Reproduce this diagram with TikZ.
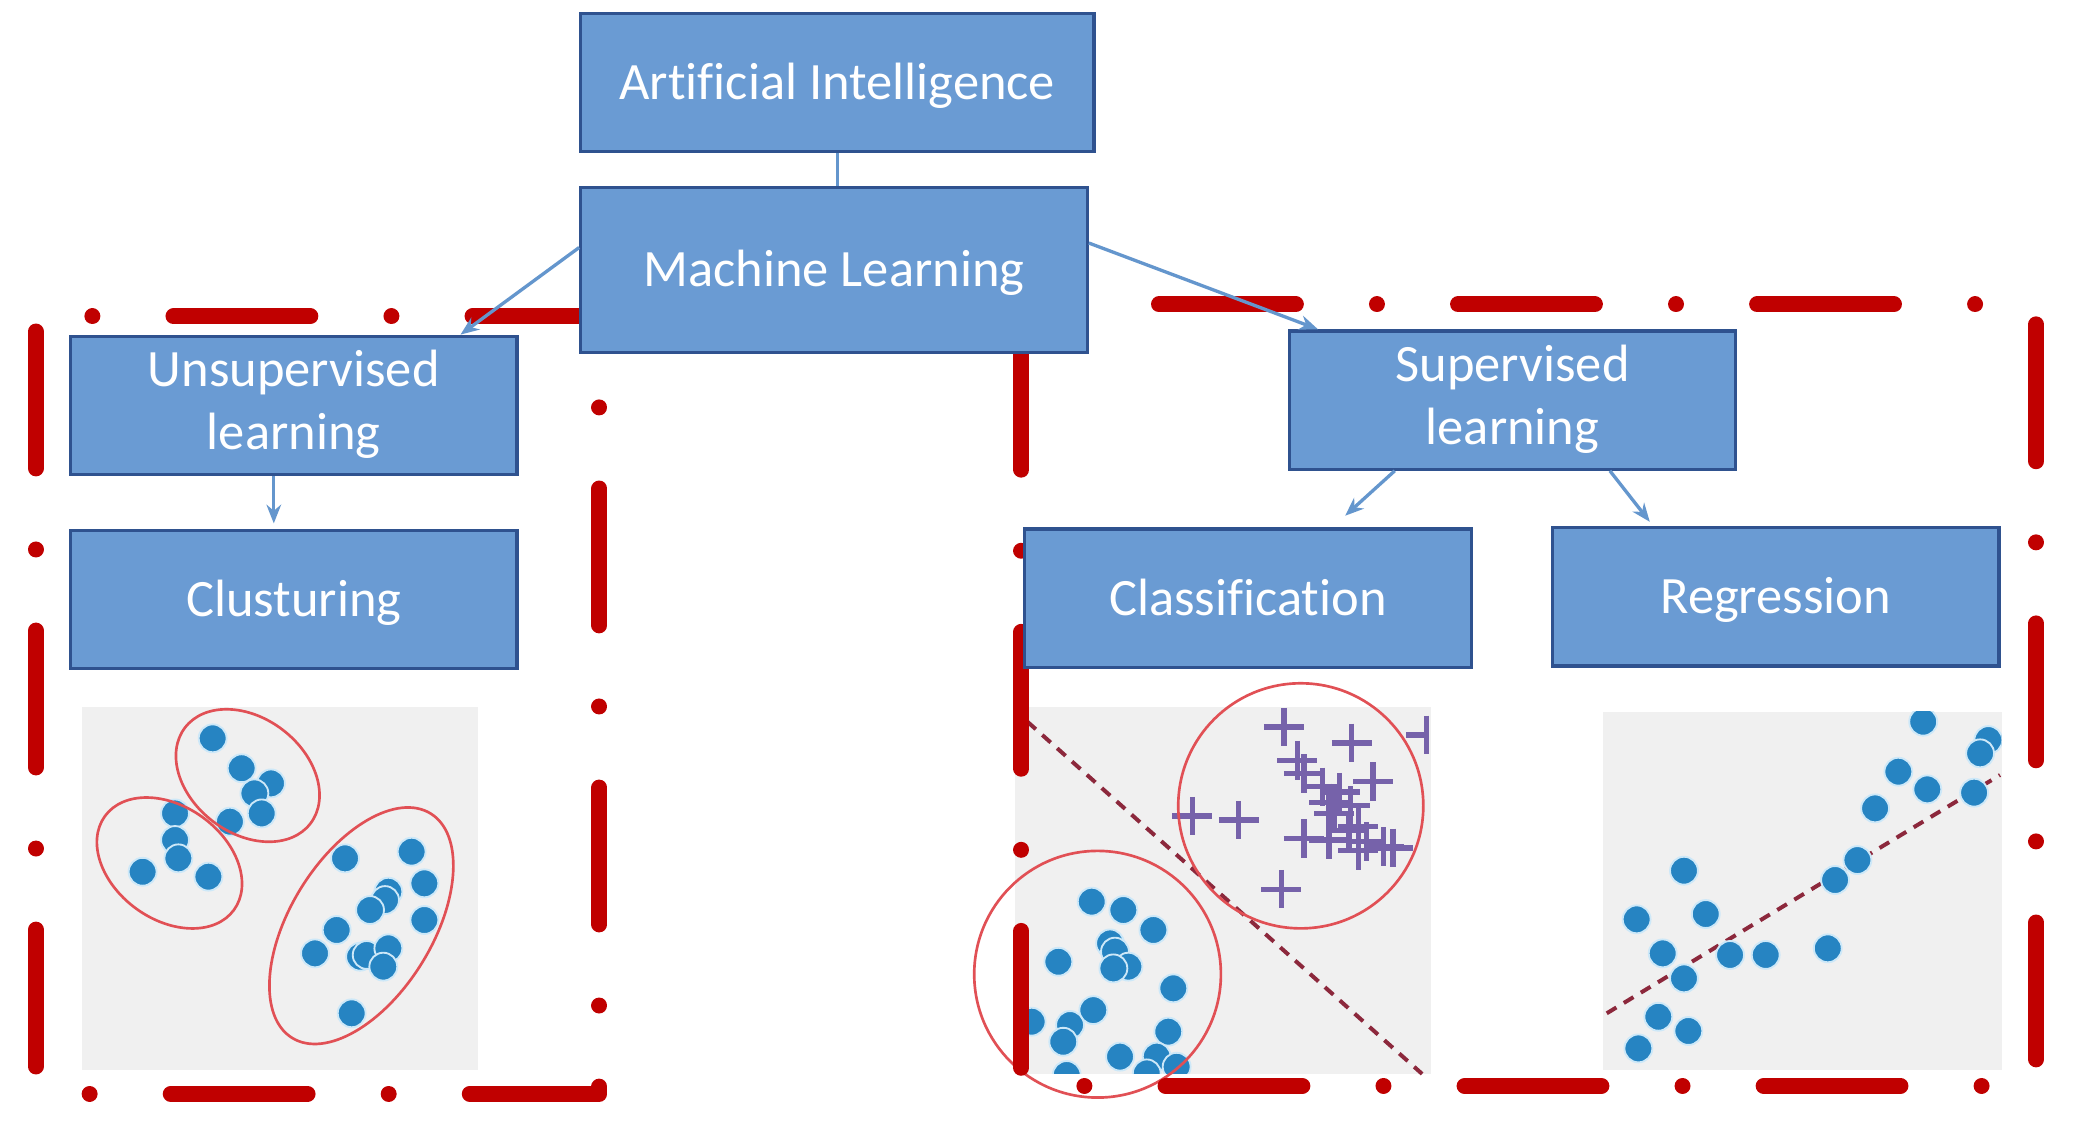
\documentclass[tikz,border=0pt]{standalone}
\usepackage{fontspec}
\setmainfont{Carlito}[Ligatures=NoCommon]
\usetikzlibrary{arrows.meta}
\definecolor{boxfill}{RGB}{106,155,211}
\definecolor{boxline}{RGB}{47,82,143}
\definecolor{conn}{RGB}{100,150,205}
\definecolor{redb}{RGB}{192,0,0}
\definecolor{plotbg}{RGB}{240,240,240}
\definecolor{dotblue}{RGB}{38,132,194}
\definecolor{dothalo}{RGB}{205,232,248}
\definecolor{plusc}{RGB}{118,98,170}
\definecolor{ellc}{RGB}{225,80,85}
\definecolor{sepc}{RGB}{140,40,60}
\begin{document}
\begin{tikzpicture}[x=1pt,y=-1pt,
  box/.style={draw=boxline, line width=2.5pt, fill=boxfill, text=white,
    font=\fontsize{39.5}{47.5}\selectfont, align=center, inner sep=0pt,
    minimum width=336pt, minimum height=104pt,
    execute at begin node={\rule[-0.2em]{0pt}{1.05em}}},
  conn/.style={draw=conn, line width=2.5pt},
  arr/.style={conn, -{Stealth[length=14pt,width=11pt]}},
  redframe/.style={draw=redb, line width=12pt, line cap=round, line join=round,
    dash pattern=on 103pt off 61pt on 0.01pt off 61pt, dash phase=121.5pt},
  sdot/.style={fill=dotblue, draw=dothalo, line width=1.4pt},
  ell/.style={draw=ellc, line width=2pt},
  plusm/.style={draw=plusc, line width=4pt},
  sep/.style={draw=sepc, line width=3pt, dash pattern=on 8.5pt off 6.5pt}]
\useasboundingbox (0,0) rectangle (1568,857.7);
\fill[white] (0,0) rectangle (1568,857.7);

% ---------- clustering plot ----------
\fill[plotbg] (61.5,531.7) rectangle (360,805);
\foreach \x/\y in {160/555.5,181.8/578,203.9/589.4,191.4/596.9,196.9/612,173/618.2,
  131.7/612,131.7/632,134.2/645.8,107.3/655.9,156.8/659.6,
  259.6/645.8,309.7/640.8,319.3/664.6,292.2/670.9,289.7/677.2,278.4/684.7,
  253.3/699.7,319.3/692.2,237/717.3,270.9/719.8,275.9/718.5,292.2/713.5,
  288.4/727.3,264.6/762.4}
  {\draw[sdot] (\x,\y) circle[radius=10.5];}
\draw[ell, rotate around={-37.4:(186.4,583.5)}] (186.4,583.5) ellipse[x radius=59.4, y radius=43.3];
\draw[ell, rotate around={-36:(127.5,649.3)}] (127.5,649.3) ellipse[x radius=60, y radius=42.5];
\draw[ell, rotate around={58.3:(271.9,696.5)}] (271.9,696.5) ellipse[x radius=99.2, y radius=53.5];

% ---------- classification plot ----------
\fill[plotbg] (764,532) rectangle (1077,808);
\draw[sep] (773,543) -- (1070,808);
\foreach \x/\y in {966/547,1017/559,976/572,981/582,1033/588,995/592,1008/596,
  1000/604,1016/606,1004/612,1022/622,897/614,932/617,981/631,1000/632,
  1015/625,1028/633,1041/637,1048/638,1022/640,964/669}
  {\draw[plusm] (\x,\y) +(-15,0) -- +(15,0) +(0,-14.5) -- +(0,14.5);}
\draw[plusm] (1058,553) -- (1073.4,553) (1073.4,538.5) -- (1073.4,567.5);
\begin{scope}
\clip (764,532) rectangle (1077,808);
\foreach \x/\y in {821.4/678.4,845.2/684.7,867.8/699.7,835.2/709.8,838.9/716,
  849/727.3,837.7/728.6,796.3/723.6,882.8/743.6,822.6/760,805.1/771.2,
  800/783.8,879/776.2,842.7/795,870.3/795,885.3/802.6,862.8/807.6,
  802.6/808.8,776.2/768.7}
  {\draw[sdot] (\x,\y) circle[radius=10.5];}
\end{scope}
\draw[ell] (978.7,606.3) circle[radius=92.2];
\draw[ell] (825.8,733) circle[radius=92.8];

% ---------- regression plot ----------
\fill[plotbg] (1206,535.5) rectangle (1506,805);
\begin{scope}
\clip (1206,535.5) rectangle (1506,805);
\draw[sep] (1208.9,762.4) -- (1504.8,583.1);
\foreach \x/\y in {1447/543,1496/556.8,1489.8/566.8,1428.3/580.6,1450.1/593.9,
  1485.3/596.4,1410.8/608.2,1397.5/647.1,1380.7/662.1,1267/655.1,1231.4/691.7,
  1283.4/687.7,1251/717.3,1301.7/718.5,1328.5/718.5,1375.2/713.5,1267/736.1,
  1247.7/765,1270.3/775.7,1232.7/788.8}
  {\draw[sdot] (\x,\y) circle[radius=10.5];}
\end{scope}

% ---------- red dash-dot frames ----------
\draw[redframe] (27,238) -- (451,238) -- (451,823) -- (27,823) -- cycle;
\draw[redframe] (768.5,229) -- (1532,229) -- (1532,817) -- (768.5,817) -- cycle;

% ---------- boxes ----------
\node[box, minimum width=386pt] (ai) at (630,62) {Artificial Intelligence};
\node[box, minimum width=381pt, minimum height=124pt] (ml) at (627.5,203) {Machine Learning};
\node[box] (unsup) at (221,305) {Unsupervised\\learning};
\node[box] (clust) at (221,451) {Clusturing};
\node[box] (sup) at (1138,301) {Supervised\\learning};
\node[box] (class) at (939,450) {Classification};
\node[box] (regr) at (1336,449) {Regression};

% ---------- connectors ----------
\draw[conn] (ai.south) -- (ai.south |- ml.north);
\draw[arr] (ml.175) -- (unsup.23.6);
\draw[arr] (ml.6.9) -- (sup.160.7);
\draw[arr, shorten >=4pt] ([xshift=-15pt]unsup.south) -- ([xshift=-15pt]clust.north);
\draw[arr, shorten >=13pt] (sup.211.2) -- (class.40.8);
\draw[arr, shorten >=4pt] (sup.324.2) -- (regr.150.6);
\end{tikzpicture}
\end{document}
